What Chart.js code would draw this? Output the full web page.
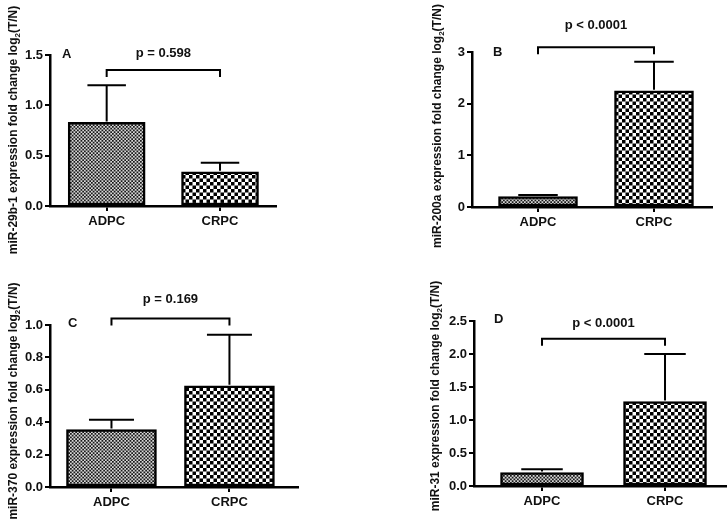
<!DOCTYPE html>
<html>
<head>
<meta charset="utf-8">
<script src="https://cdn.jsdelivr.net/npm/chart.js@4.4.1/dist/chart.umd.min.js"></script>
<style>
  body { margin: 0; background: #fff; }
  #wrap { position: relative; width: 727px; height: 529px; overflow: hidden; }
  canvas { position: absolute; }
</style>
</head>
<body>
<div id="wrap">
  <canvas id="cA" width="363" height="265" style="left:0;top:0"></canvas>
  <canvas id="cB" width="364" height="265" style="left:363px;top:0"></canvas>
  <canvas id="cC" width="363" height="264" style="left:0;top:265px"></canvas>
  <canvas id="cD" width="364" height="264" style="left:363px;top:265px"></canvas>
</div>
<script>
const groups = ['ADPC', 'CRPC'];

// mean and error (upper bar only) per panel, ADPC then CRPC
const meanA = [0.83, 0.34], errA = [0.37, 0.09];
const meanB = [0.20, 2.25], errB = [0.03, 0.56];
const meanC = [0.355, 0.625], errC = [0.06, 0.315];
const meanD = [0.205, 1.28], errD = [0.05, 0.72];

const mirNames = ['miR-29b-1', 'miR-200a', 'miR-370', 'miR-31'];
const pLabels = ['p = 0.598', 'p < 0.0001', 'p = 0.169', 'p < 0.0001'];
const letters = ['A', 'B', 'C', 'D'];
const yMax = [1.5, 3, 1.0, 2.5];
const yStep = [0.5, 1, 0.2, 0.5];
const yDec = [1, 0, 1, 1];
const bracketAt = [1.35, 3.09, 1.04, 2.23];

const FONT = '"Liberation Sans", Arial, sans-serif';

function checker(n, dark, light) {
  const c = document.createElement('canvas');
  c.width = c.height = 14;
  const g = c.getContext('2d');
  const cell = 14 / n;
  g.fillStyle = light;
  g.fillRect(0, 0, 14, 14);
  g.fillStyle = dark;
  for (let i = 0; i < n; i++)
    for (let j = 0; j < n; j++)
      if ((i + j) % 2 === 0) g.fillRect(i * cell, j * cell, cell, cell);
  return g.createPattern(c, 'repeat');
}

const annot = {
  id: 'annot',
  afterDatasetsDraw(chart, args, o) {
    const { ctx, chartArea: a, scales: { x, y } } = chart;
    ctx.save();
    ctx.strokeStyle = '#000';
    ctx.lineWidth = 2;
    // error bars
    o.means.forEach((m, i) => {
      const px = x.getPixelForValue(i + 1);
      const base = y.getPixelForValue(m);
      const top = y.getPixelForValue(m + o.errs[i]);
      const hw = o.barW / 4;
      ctx.beginPath();
      ctx.moveTo(px, base - 1);
      ctx.lineTo(px, top);
      ctx.moveTo(px - hw, top);
      ctx.lineTo(px + hw, top);
      ctx.stroke();
    });
    // significance bracket
    const by = y.getPixelForValue(o.bracket);
    const x1 = x.getPixelForValue(1), x2 = x.getPixelForValue(2);
    ctx.beginPath();
    ctx.moveTo(x1, by + 7);
    ctx.lineTo(x1, by);
    ctx.lineTo(x2, by);
    ctx.lineTo(x2, by + 7);
    ctx.stroke();

    ctx.fillStyle = '#111';
    ctx.font = 'bold 13px ' + FONT;
    ctx.textAlign = 'center';
    ctx.textBaseline = 'middle';
    ctx.fillText(o.pText, (x1 + x2) / 2, by - o.pDy);
    ctx.textAlign = 'left';
    ctx.fillText(o.letter, a.left + o.letterDx, a.top + o.letterDy);

    // rotated y title with subscript
    const t1 = o.name + ' expression fold change log', t2 = '2', t3 = '(T/N)';
    ctx.translate(o.titleX, o.titleY);
    ctx.rotate(-Math.PI / 2);
    ctx.textBaseline = 'alphabetic';
    ctx.font = 'bold 12px ' + FONT;
    const w1 = ctx.measureText(t1).width, w3 = ctx.measureText(t3).width;
    ctx.font = 'bold 8px ' + FONT;
    const w2 = ctx.measureText(t2).width;
    let sx = -(w1 + w2 + w3) / 2;
    ctx.font = 'bold 12px ' + FONT;
    ctx.fillText(t1, sx, 4);
    ctx.font = 'bold 8px ' + FONT;
    ctx.fillText(t2, sx + w1, 7);
    ctx.font = 'bold 12px ' + FONT;
    ctx.fillText(t3, sx + w1 + w2, 4);
    ctx.restore();
  }
};

const panels = [
  { id: 'cA', means: meanA, errs: errA, pad: { left: 16, right: 87, top: 55, bottom: 29 }, xMin: 0.5, xMax: 2.494, barW: 77, titleX: 13, titleY: 130, letterDx: 12, letterDy: -1, pDy: 17 },
  { id: 'cB', means: meanB, errs: errB, pad: { left: 75, right: 15, top: 52, bottom: 28 }, xMin: 0.431, xMax: 2.5, barW: 79, titleX: 74, titleY: 126, letterDx: 21, letterDy: 0, pDy: 22 },
  { id: 'cC', means: meanC, errs: errC, pad: { left: 16, right: 65, top: 60, bottom: 12 }, xMin: 0.479, xMax: 2.581, barW: 90, titleX: 13, titleY: 136, letterDx: 18, letterDy: -2, pDy: 19 },
  { id: 'cD', means: meanD, errs: errD, pad: { left: 77, right: 0, top: 56, bottom: 13 }, xMin: 0.447, xMax: 2.504, barW: 83, titleX: 72, titleY: 131, letterDx: 20, letterDy: -2, pDy: 15 }
];

const fills = [checker(8, '#1a1a1a', '#d8d8d8'), checker(4, '#000', '#fff')];
const tickFont = { family: FONT, size: 13, weight: 'bold' };

panels.forEach((p, k) => {
  new Chart(document.getElementById(p.id).getContext('2d'), {
    type: 'bar',
    data: {
      datasets: groups.map((g, i) => ({
        label: g,
        data: [{ x: i + 1, y: p.means[i] }],
        backgroundColor: fills[i],
        borderColor: '#000',
        borderWidth: 2.5,
        borderSkipped: false,
        barThickness: p.barW,
        grouped: false
      }))
    },
    options: {
      responsive: false,
      animation: false,
      layout: { padding: p.pad },
      plugins: {
        legend: { display: false },
        tooltip: { enabled: false },
        annot: {
          means: p.means, errs: p.errs, barW: p.barW, bracket: bracketAt[k],
          pText: pLabels[k], pDy: p.pDy, letter: letters[k], letterDx: p.letterDx, letterDy: p.letterDy,
          name: mirNames[k], titleX: p.titleX, titleY: p.titleY
        }
      },
      scales: {
        x: {
          type: 'linear',
          min: p.xMin,
          max: p.xMax,
          offset: false,
          grid: { offset: false, drawOnChartArea: false, color: '#000', lineWidth: 2, tickLength: 5 },
          border: { color: '#000', width: 2.5 },
          afterBuildTicks: s => { s.ticks = groups.map((g, i) => ({ value: i + 1 })); },
          afterFit: s => { s.height = 30; },
          ticks: { callback: v => groups[v - 1], font: tickFont, color: '#111', padding: 3, maxRotation: 0 }
        },
        y: {
          min: 0,
          max: yMax[k],
          grid: { drawOnChartArea: false, color: '#000', lineWidth: 2, tickLength: 5 },
          border: { color: '#000', width: 2.5 },
          afterFit: s => { s.width = 34; },
          ticks: { stepSize: yStep[k], callback: v => v.toFixed(yDec[k]), font: tickFont, color: '#111', padding: 2 }
        }
      }
    },
    plugins: [annot]
  });
});
</script>
</body>
</html>
